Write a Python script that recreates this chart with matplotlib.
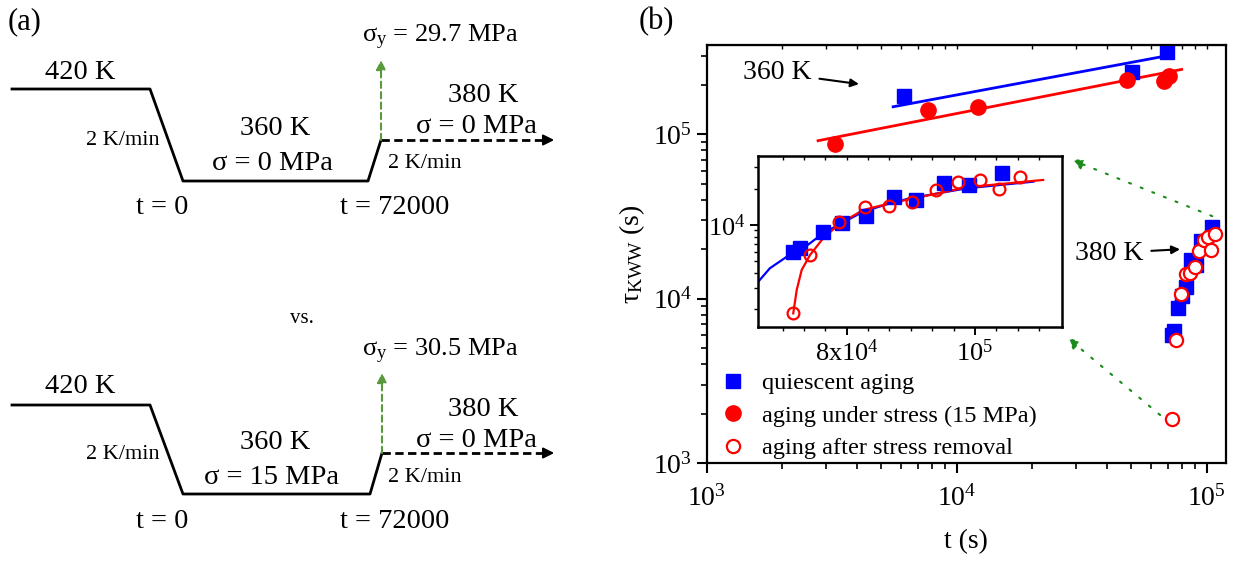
import numpy as np
import matplotlib
matplotlib.use('Agg')
import matplotlib.pyplot as plt
from matplotlib.ticker import FixedLocator, FixedFormatter, NullFormatter, LogLocator

plt.rcParams['font.family'] = ['Liberation Serif', 'DejaVu Serif']
plt.rcParams['mathtext.fontset'] = 'custom'
plt.rcParams['mathtext.rm'] = 'Liberation Serif'
plt.rcParams['mathtext.it'] = 'Liberation Serif:italic'

# ---- data ----
# quiescent aging, 360 K and 380 K
q360_t = [6170, 50100, 69200]
q360_tau = [171000, 240000, 315000]
q380_t = [72900, 73800, 76800, 79300, 82800, 86900, 90200, 94800, 99000, 104800]
q380_tau = [6010, 6410, 8790, 10450, 11880, 17180, 16110, 22430, 21480, 27190]
# aging under 15 MPa at 360 K
s360_t = [3260, 7700, 12200, 47900, 67500, 70500]
s360_tau = [87300, 140500, 146000, 214000, 212000, 226000]
# aging at 380 K after stress removal
r380_t = [72900, 75100, 79000, 82600, 86100, 89600, 93400, 97100, 100900, 104300, 108100]
r380_tau = [1850, 5640, 10650, 14190, 14380, 15600, 19500, 22860, 23600, 19770, 24900]

# fit lines (main panel)
qfit_t = [5570, 69200]
qfit_tau = [147000, 300000]
sfit_t = [2790, 79400]
sfit_tau = [91400, 248000]
# fit curves (inset)
qcurve_t = [68600, 70000, 72100, 74200, 76800, 79100, 82350, 86280, 89300, 98600, 110700]
qcurve_tau = [3390, 4380, 5460, 6410, 8540, 10190, 12890, 15130, 16640, 20140, 22860]
rcurve_t = [72900, 73340, 73980, 75060, 76800, 79100, 82350, 86280, 89300, 98600, 112600]
rcurve_tau = [1850, 2890, 4240, 5640, 7760, 10330, 13310, 15130, 16340, 20550, 23610]

legend_labels = ['quiescent aging', 'aging under stress (15 MPa)', 'aging after stress removal']

BLUE = '#0000ff'
RED = '#ff0000'
GREEN = '#1a8a1a'
OLIVE = '#5a9a3c'

fig = plt.figure(figsize=(12.33, 5.61), dpi=100)

# ---- panel (a): schematic, drawn in pixel units ----
ax_a = fig.add_axes([0, 0, 1, 1])
ax_a.set_xlim(0, 1233)
ax_a.set_ylim(561, 0)
ax_a.axis('off')

prof_x = [[12, 150, 183, 368, 381], [12, 150, 183, 370, 382]]
prof_y = [[89, 89, 181, 181, 140], [405, 405, 494, 494, 453]]
for px, py in zip(prof_x, prof_y):
    ax_a.plot(px, py, color='black', lw=2)
    ax_a.plot([px[-1], 548], [py[-1], py[-1]], color='black', lw=2, ls=(0, (3, 1.6)))
    ax_a.annotate('', xy=(557, py[-1]), xytext=(545, py[-1]),
                  arrowprops=dict(arrowstyle='-|>', color='black', lw=1.5, mutation_scale=16))
    ax_a.annotate('', xy=(px[-1], py[-1] - 80), xytext=(px[-1], py[-1]),
                  arrowprops=dict(arrowstyle='-|>', color=OLIVE, lw=1.5, ls=(0, (3, 2)),
                                  mutation_scale=14, shrinkA=0, shrinkB=0))

fs_big = 20.5
fs_small = 16
ax_a.text(25, 22, '(a)', ha='center', va='center', fontsize=22)
ax_a.text(656, 22, '(b)', ha='center', va='center', fontsize=22)
for dy, sig, sy in [(0, '0', '29.7'), (314, '15', '30.5')]:
    ax_a.text(80, 72 + dy, '420 K', ha='center', va='center', fontsize=fs_big)
    ax_a.text(160, 140 + dy, '2 K/min', ha='right', va='center', fontsize=fs_small)
    ax_a.text(275, 128 + dy, '360 K', ha='center', va='center', fontsize=fs_big)
    ax_a.text(272, 163 + dy, 'σ = %s MPa' % sig, ha='center', va='center', fontsize=fs_big)
    ax_a.text(162, 207 + dy, 't = 0', ha='center', va='center', fontsize=fs_big)
    ax_a.text(395, 207 + dy, 't = 72000', ha='center', va='center', fontsize=fs_big)
    ax_a.text(483, 95 + dy, '380 K', ha='center', va='center', fontsize=fs_big)
    ax_a.text(476, 126 + dy, 'σ = 0 MPa', ha='center', va='center', fontsize=fs_big)
    ax_a.text(388, 163 + dy, '2 K/min', ha='left', va='center', fontsize=fs_small)
    ax_a.text(362, 37 + dy, r'$\mathrm{\sigma_y}$ = %s MPa' % sy, ha='left', va='center', fontsize=19)
ax_a.text(302, 318, 'vs.', ha='center', va='center', fontsize=15)

# ---- panel (b): main axes ----
ax = fig.add_axes([0.5731, 0.1741, 0.4212, 0.7457])
ax.set_xscale('log')
ax.set_yscale('log')
ax.set_xlim(1e3, 1.194e5)
ax.set_ylim(1e3, 3.49e5)

ax.plot(qfit_t, qfit_tau, color=BLUE, lw=2)
ax.plot(sfit_t, sfit_tau, color=RED, lw=2)
h1, = ax.plot(q360_t + q380_t, q360_tau + q380_tau, 's', color=BLUE, ms=10.5, ls='none')
h2, = ax.plot(s360_t, s360_tau, 'o', color=RED, ms=11, ls='none')
h3, = ax.plot(r380_t, r380_tau, 'o', mfc='white', mec=RED, mew=1.6, ms=9.5, ls='none')

for s in ax.spines.values():
    s.set_linewidth(1.6)
ax.tick_params(which='major', direction='out', length=7, width=1.5, labelsize=20)
ax.tick_params(which='minor', direction='out', length=4, width=1.2)
ax.tick_params(axis='x', which='major', pad=9)
ax.tick_params(axis='y', which='both', right=False)
top = ax.secondary_xaxis('top')
top.tick_params(which='both', direction='in', length=3, width=1, labeltop=False)
top.xaxis.set_minor_formatter(NullFormatter())
top.xaxis.set_major_formatter(NullFormatter())

ax.set_xlabel('t (s)', fontsize=20, labelpad=12)
ax.set_ylabel(r'$\mathrm{\tau_{KWW}}$ (s)', fontsize=20, labelpad=4)

ax.legend([h1, h2, h3], legend_labels, loc='upper left', bbox_to_anchor=(0.0275, 0.2182),
          frameon=False, fontsize=17.5, handlelength=1, handletextpad=0.7,
          labelspacing=0.44, borderpad=0, borderaxespad=0, numpoints=1)

ax.annotate('360 K', xy=(4065, 202000), xytext=(1910, 236000), fontsize=20,
            ha='center', va='center',
            arrowprops=dict(arrowstyle='-|>', color='black', lw=1.5, mutation_scale=12, shrinkA=4, shrinkB=0))
ax.annotate('380 K', xy=(78200, 20000), xytext=(40600, 18960), fontsize=20,
            ha='center', va='center',
            arrowprops=dict(arrowstyle='-|>', color='black', lw=1.5, mutation_scale=12, shrinkA=4, shrinkB=0))
ax.annotate('', xy=(28900, 69800), xytext=(105200, 31800),
            arrowprops=dict(arrowstyle='-|>', color=GREEN, lw=1.5, ls=(0, (1, 5)), mutation_scale=16,
                            shrinkA=0, shrinkB=0))
ax.annotate('', xy=(27800, 5780), xytext=(65100, 1967),
            arrowprops=dict(arrowstyle='-|>', color=GREEN, lw=1.5, ls=(0, (1, 5)), mutation_scale=16,
                            shrinkA=0, shrinkB=0))

# ---- inset ----
axin = fig.add_axes([0.6150, 0.4177, 0.2461, 0.3043])
axin.set_xscale('log')
axin.set_yscale('log')
axin.set_xlim(68600, 116300)
axin.set_ylim(1435, 37330)
axin.plot(qcurve_t, qcurve_tau, color=BLUE, lw=1.6)
axin.plot(rcurve_t, rcurve_tau, color=RED, lw=1.6)
axin.plot(q380_t, q380_tau, 's', color=BLUE, ms=9.5, ls='none')
axin.plot(r380_t, r380_tau, 'o', mfc='none', mec=RED, mew=1.6, ms=8.5, ls='none')

for s in axin.spines.values():
    s.set_linewidth(1.8)
axin.xaxis.set_major_locator(FixedLocator([8e4, 1e5]))
axin.xaxis.set_major_formatter(FixedFormatter([r'$\mathdefault{8x10^{4}}$', r'$\mathdefault{10^{5}}$']))
step = np.log10(1e5 / 8e4) / 6
axin.xaxis.set_minor_locator(FixedLocator(10 ** (np.log10(8e4) + step * np.arange(-3, 10))))
axin.xaxis.set_minor_formatter(NullFormatter())
axin.yaxis.set_major_locator(FixedLocator([1e4]))
axin.yaxis.set_major_formatter(FixedFormatter([r'$\mathdefault{10^{4}}$']))
axin.yaxis.set_minor_locator(LogLocator(base=10, subs=np.arange(2, 10)))
axin.yaxis.set_minor_formatter(NullFormatter())
axin.tick_params(which='major', direction='out', length=6, width=1.4, labelsize=19)
axin.tick_params(which='minor', direction='out', length=3, width=1)
axin.tick_params(axis='y', which='both', right=False)
intop = axin.secondary_xaxis('top')
intop.set_xticks([8e4, 1e5])
intop.xaxis.set_minor_locator(FixedLocator(10 ** (np.log10(8e4) + step * np.arange(-3, 10))))
intop.tick_params(which='both', direction='in', length=3, width=1, labeltop=False)
intop.xaxis.set_major_formatter(NullFormatter())
intop.xaxis.set_minor_formatter(NullFormatter())

fig.savefig('out.png', dpi=100)
